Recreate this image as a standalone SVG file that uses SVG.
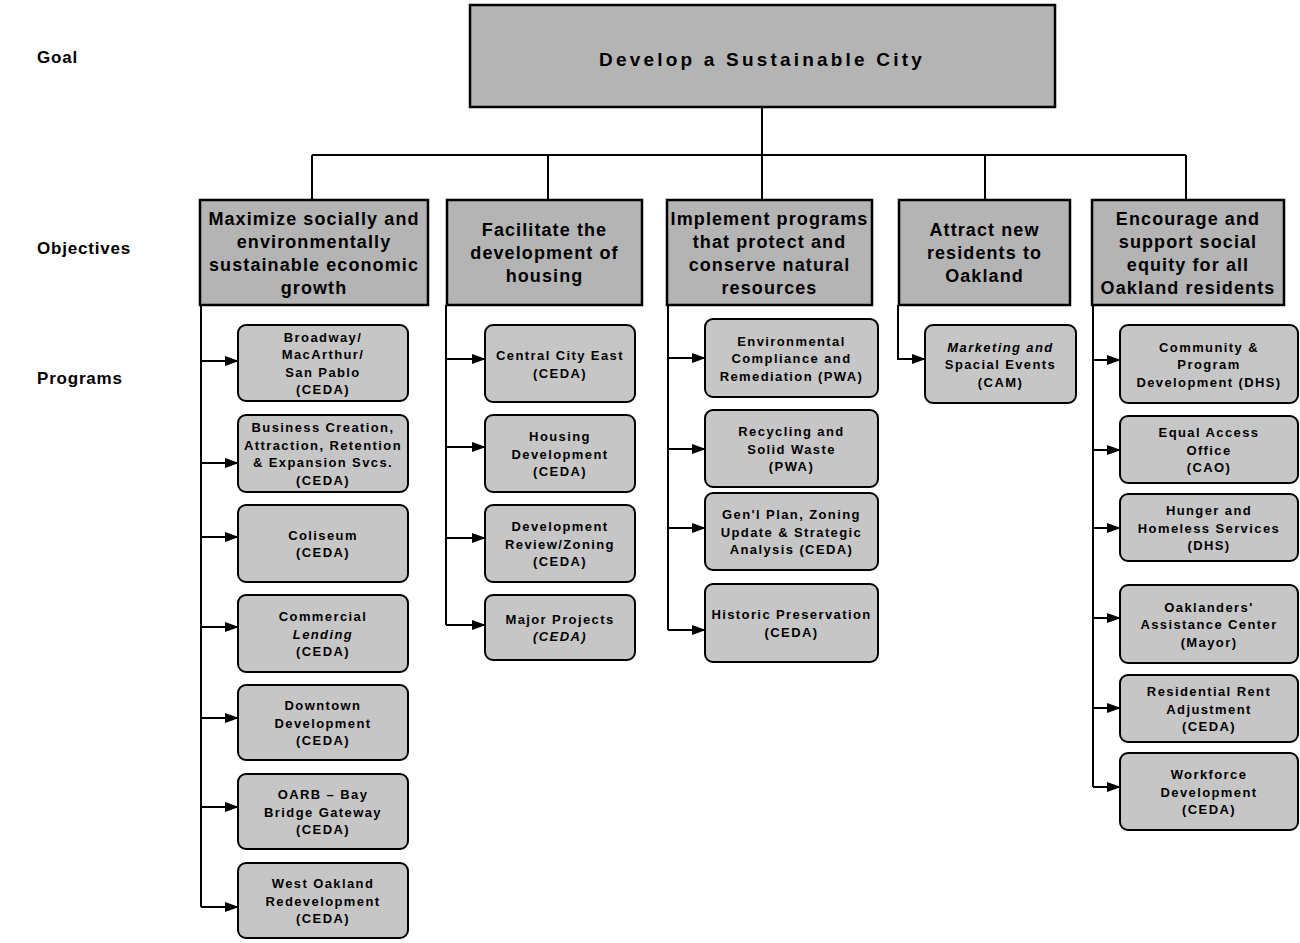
<svg xmlns="http://www.w3.org/2000/svg" width="1300" height="943" viewBox="0 0 1300 943">
<style>
.bg{fill:#ffffff}
.goal{fill:#b4b4b4;stroke:#000;stroke-width:2.5}
.obj{fill:#b4b4b4;stroke:#000;stroke-width:2.5}
.prog{fill:#c6c6c6;stroke:#000;stroke-width:2}
.conn{fill:none;stroke:#000;stroke-width:2}
.lbl{font-family:"Liberation Sans",Arial,sans-serif;font-weight:bold;font-size:17px;letter-spacing:0.8px;fill:#000}
.gt{font-family:"Liberation Sans",Arial,sans-serif;font-weight:bold;font-size:19px;letter-spacing:3.2px;fill:#000;text-anchor:middle}
.ot{font-family:"Liberation Sans",Arial,sans-serif;font-weight:bold;font-size:18px;letter-spacing:1.1px;fill:#000;text-anchor:middle}
.pt{font-family:"Liberation Sans",Arial,sans-serif;font-weight:bold;font-size:13px;letter-spacing:1.4px;fill:#000;text-anchor:middle}
.it{font-style:italic}
</style>
<defs>
<marker id="ah" markerWidth="14" markerHeight="10" refX="13" refY="5" orient="auto" markerUnits="userSpaceOnUse">
<path d="M0,0 L14,5 L0,10 Z" fill="#000"/>
</marker>
</defs>
<rect class="bg" x="0" y="0" width="1300" height="943"/>

<g id="labels">
<text class="lbl" x="37" y="63">Goal</text>
<text class="lbl" x="37" y="254">Objectives</text>
<text class="lbl" x="37" y="384">Programs</text>
</g>

<g id="connectors">
<path class="conn" d="M762,108 V155 M312,155 H1186 M312,155 V200 M548,155 V200 M762,155 V200 M985,155 V200 M1186,155 V200"/>
<path class="conn" d="M201,305 V907"/>
<path class="conn" marker-end="url(#ah)" d="M201,361 H238"/>
<path class="conn" marker-end="url(#ah)" d="M201,463 H238"/>
<path class="conn" marker-end="url(#ah)" d="M201,537 H238"/>
<path class="conn" marker-end="url(#ah)" d="M201,627 H238"/>
<path class="conn" marker-end="url(#ah)" d="M201,718 H238"/>
<path class="conn" marker-end="url(#ah)" d="M201,807 H238"/>
<path class="conn" marker-end="url(#ah)" d="M201,907 H238"/>
<path class="conn" d="M446,305 V625"/>
<path class="conn" marker-end="url(#ah)" d="M446,359 H485"/>
<path class="conn" marker-end="url(#ah)" d="M446,447 H485"/>
<path class="conn" marker-end="url(#ah)" d="M446,538 H485"/>
<path class="conn" marker-end="url(#ah)" d="M446,625 H485"/>
<path class="conn" d="M668,305 V630"/>
<path class="conn" marker-end="url(#ah)" d="M668,358 H705"/>
<path class="conn" marker-end="url(#ah)" d="M668,449 H705"/>
<path class="conn" marker-end="url(#ah)" d="M668,528 H705"/>
<path class="conn" marker-end="url(#ah)" d="M668,630 H705"/>
<path class="conn" marker-end="url(#ah)" d="M898,305 V359 H925"/>
<path class="conn" d="M1093,305 V787"/>
<path class="conn" marker-end="url(#ah)" d="M1093,360 H1120"/>
<path class="conn" marker-end="url(#ah)" d="M1093,450 H1120"/>
<path class="conn" marker-end="url(#ah)" d="M1093,528 H1120"/>
<path class="conn" marker-end="url(#ah)" d="M1093,618 H1120"/>
<path class="conn" marker-end="url(#ah)" d="M1093,708 H1120"/>
<path class="conn" marker-end="url(#ah)" d="M1093,787 H1120"/>
</g>

<g id="goal">
<rect class="goal" x="470" y="5" width="585" height="102"/>
<text class="gt" x="762" y="66">Develop a Sustainable City</text>
</g>

<g id="obj1">
<rect class="obj" x="200" y="200" width="228" height="105"/>
<text class="ot" x="314" y="224.5">Maximize socially and</text>
<text class="ot" x="314" y="247.5">environmentally</text>
<text class="ot" x="314" y="270.5">sustainable economic</text>
<text class="ot" x="314" y="293.5">growth</text>
</g>
<g id="obj2">
<rect class="obj" x="447" y="200" width="195" height="105"/>
<text class="ot" x="544.5" y="236">Facilitate the</text>
<text class="ot" x="544.5" y="259">development of</text>
<text class="ot" x="544.5" y="282">housing</text>
</g>
<g id="obj3">
<rect class="obj" x="667" y="200" width="205" height="105"/>
<text class="ot" x="769.5" y="224.5">Implement programs</text>
<text class="ot" x="769.5" y="247.5">that protect and</text>
<text class="ot" x="769.5" y="270.5">conserve natural</text>
<text class="ot" x="769.5" y="293.5">resources</text>
</g>
<g id="obj4">
<rect class="obj" x="899" y="200" width="171" height="105"/>
<text class="ot" x="984.5" y="236">Attract new</text>
<text class="ot" x="984.5" y="259">residents to</text>
<text class="ot" x="984.5" y="282">Oakland</text>
</g>
<g id="obj5">
<rect class="obj" x="1092" y="200" width="192" height="105"/>
<text class="ot" x="1188" y="224.5">Encourage and</text>
<text class="ot" x="1188" y="247.5">support social</text>
<text class="ot" x="1188" y="270.5">equity for all</text>
<text class="ot" x="1188" y="293.5">Oakland residents</text>
</g>

<g id="p-broadway">
<rect class="prog" x="238" y="325" width="170" height="76" rx="8"/>
<text class="pt" x="323" y="341.75">Broadway/</text>
<text class="pt" x="323" y="359.25">MacArthur/</text>
<text class="pt" x="323" y="376.75">San Pablo</text>
<text class="pt" x="323" y="394.25">(CEDA)</text>
</g>
<g id="p-business">
<rect class="prog" x="238" y="415" width="170" height="77" rx="8"/>
<text class="pt" x="323" y="432">Business Creation,</text>
<text class="pt" x="323" y="449.5">Attraction, Retention</text>
<text class="pt" x="323" y="467">&amp; Expansion Svcs.</text>
<text class="pt" x="323" y="484.5">(CEDA)</text>
</g>
<g id="p-coliseum">
<rect class="prog" x="238" y="505" width="170" height="77" rx="8"/>
<text class="pt" x="323" y="540">Coliseum</text>
<text class="pt" x="323" y="557">(CEDA)</text>
</g>
<g id="p-commercial">
<rect class="prog" x="238" y="595" width="170" height="77" rx="8"/>
<text class="pt" x="323" y="621">Commercial</text>
<text class="pt it" x="323" y="638.5">Lending</text>
<text class="pt" x="323" y="656">(CEDA)</text>
</g>
<g id="p-downtown">
<rect class="prog" x="238" y="685" width="170" height="75" rx="8"/>
<text class="pt" x="323" y="710">Downtown</text>
<text class="pt" x="323" y="727.5">Development</text>
<text class="pt" x="323" y="745">(CEDA)</text>
</g>
<g id="p-oarb">
<rect class="prog" x="238" y="774" width="170" height="75" rx="8"/>
<text class="pt" x="323" y="799">OARB – Bay</text>
<text class="pt" x="323" y="816.5">Bridge Gateway</text>
<text class="pt" x="323" y="834">(CEDA)</text>
</g>
<g id="p-westoakland">
<rect class="prog" x="238" y="863" width="170" height="75" rx="8"/>
<text class="pt" x="323" y="888">West Oakland</text>
<text class="pt" x="323" y="905.5">Redevelopment</text>
<text class="pt" x="323" y="923">(CEDA)</text>
</g>

<g id="p-centralcity">
<rect class="prog" x="485" y="325" width="150" height="77" rx="8"/>
<text class="pt" x="560" y="360">Central City East</text>
<text class="pt" x="560" y="377.5">(CEDA)</text>
</g>
<g id="p-housing">
<rect class="prog" x="485" y="415" width="150" height="77" rx="8"/>
<text class="pt" x="560" y="441">Housing</text>
<text class="pt" x="560" y="458.5">Development</text>
<text class="pt" x="560" y="476">(CEDA)</text>
</g>
<g id="p-devreview">
<rect class="prog" x="485" y="505" width="150" height="77" rx="8"/>
<text class="pt" x="560" y="531">Development</text>
<text class="pt" x="560" y="548.5">Review/Zoning</text>
<text class="pt" x="560" y="566">(CEDA)</text>
</g>
<g id="p-major">
<rect class="prog" x="485" y="595" width="150" height="65" rx="8"/>
<text class="pt" x="560" y="623.75">Major Projects</text>
<text class="pt it" x="560" y="641.25">(CEDA)</text>
</g>

<g id="p-environmental">
<rect class="prog" x="705" y="319" width="173" height="78" rx="8"/>
<text class="pt" x="791.5" y="345.5">Environmental</text>
<text class="pt" x="791.5" y="363">Compliance and</text>
<text class="pt" x="791.5" y="380.5">Remediation (PWA)</text>
</g>
<g id="p-recycling">
<rect class="prog" x="705" y="410" width="173" height="77" rx="8"/>
<text class="pt" x="791.5" y="436">Recycling and</text>
<text class="pt" x="791.5" y="453.5">Solid Waste</text>
<text class="pt" x="791.5" y="471">(PWA)</text>
</g>
<g id="p-genplan">
<rect class="prog" x="705" y="493" width="173" height="77" rx="8"/>
<text class="pt" x="791.5" y="519">Gen'l Plan, Zoning</text>
<text class="pt" x="791.5" y="536.5">Update &amp; Strategic</text>
<text class="pt" x="791.5" y="554">Analysis (CEDA)</text>
</g>
<g id="p-historic">
<rect class="prog" x="705" y="584" width="173" height="78" rx="8"/>
<text class="pt" x="791.5" y="619.25">Historic Preservation</text>
<text class="pt" x="791.5" y="636.75">(CEDA)</text>
</g>

<g id="p-marketing">
<rect class="prog" x="925" y="325" width="151" height="78" rx="8"/>
<text class="pt it" x="1000.5" y="351.5">Marketing and</text>
<text class="pt" x="1000.5" y="369">Spacial Events</text>
<text class="pt" x="1000.5" y="386.5">(CAM)</text>
</g>

<g id="p-community">
<rect class="prog" x="1120" y="325" width="178" height="78" rx="8"/>
<text class="pt" x="1209" y="351.5">Community &amp;</text>
<text class="pt" x="1209" y="369">Program</text>
<text class="pt" x="1209" y="386.5">Development (DHS)</text>
</g>
<g id="p-equalaccess">
<rect class="prog" x="1120" y="416" width="178" height="67" rx="8"/>
<text class="pt" x="1209" y="437">Equal Access</text>
<text class="pt" x="1209" y="454.5">Office</text>
<text class="pt" x="1209" y="472">(CAO)</text>
</g>
<g id="p-hunger">
<rect class="prog" x="1120" y="494" width="178" height="67" rx="8"/>
<text class="pt" x="1209" y="515">Hunger and</text>
<text class="pt" x="1209" y="532.5">Homeless Services</text>
<text class="pt" x="1209" y="550">(DHS)</text>
</g>
<g id="p-oaklanders">
<rect class="prog" x="1120" y="585" width="178" height="78" rx="8"/>
<text class="pt" x="1209" y="611.5">Oaklanders'</text>
<text class="pt" x="1209" y="629">Assistance Center</text>
<text class="pt" x="1209" y="646.5">(Mayor)</text>
</g>
<g id="p-rent">
<rect class="prog" x="1120" y="675" width="178" height="67" rx="8"/>
<text class="pt" x="1209" y="696">Residential Rent</text>
<text class="pt" x="1209" y="713.5">Adjustment</text>
<text class="pt" x="1209" y="731">(CEDA)</text>
</g>
<g id="p-workforce">
<rect class="prog" x="1120" y="753" width="178" height="77" rx="8"/>
<text class="pt" x="1209" y="779">Workforce</text>
<text class="pt" x="1209" y="796.5">Development</text>
<text class="pt" x="1209" y="814">(CEDA)</text>
</g>
</svg>
